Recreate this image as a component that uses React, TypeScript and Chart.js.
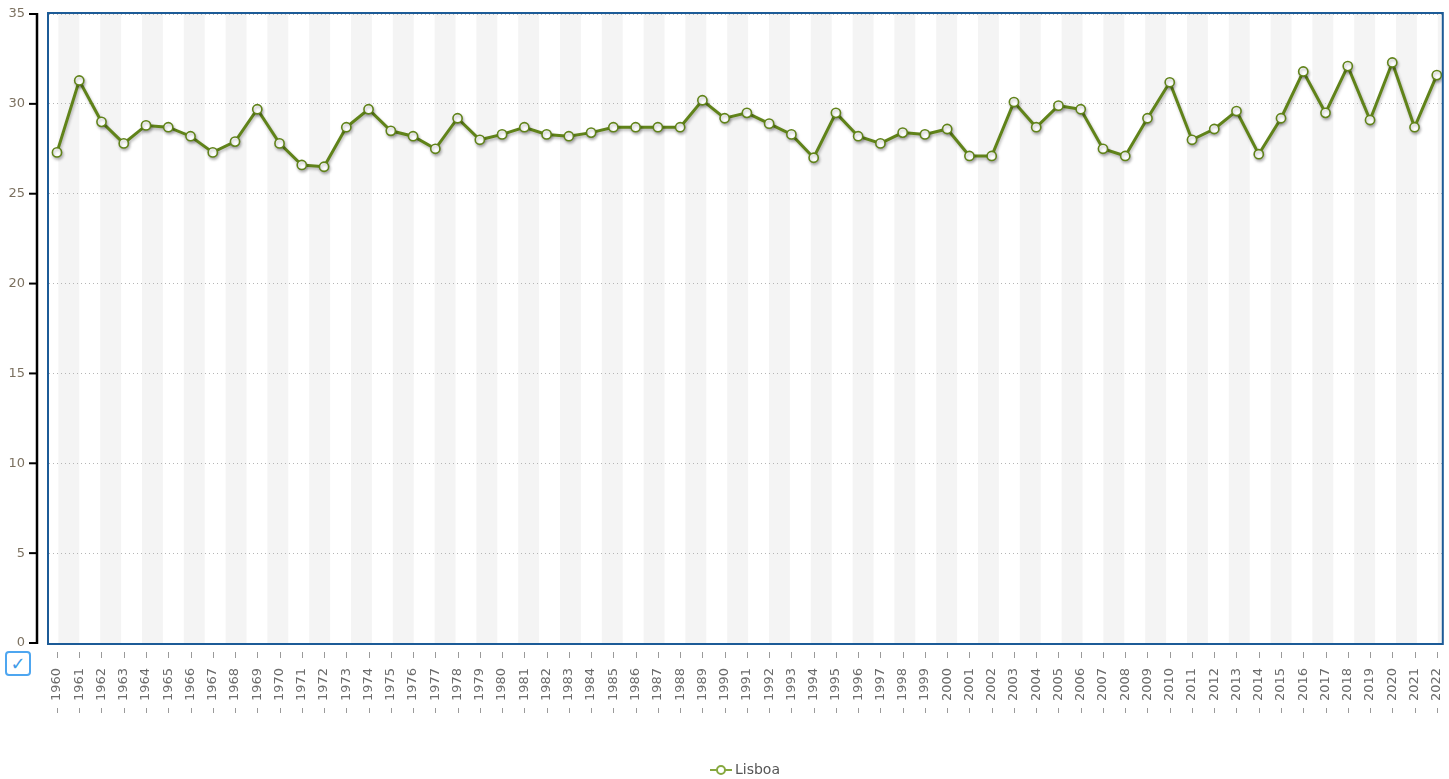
import React, { useEffect, useRef } from "react";
import { Chart, registerables } from "chart.js";

Chart.register(...registerables);

const years: string[] = [
  "1960","1961","1962","1963","1964","1965","1966","1967","1968","1969",
  "1970","1971","1972","1973","1974","1975","1976","1977","1978","1979",
  "1980","1981","1982","1983","1984","1985","1986","1987","1988","1989",
  "1990","1991","1992","1993","1994","1995","1996","1997","1998","1999",
  "2000","2001","2002","2003","2004","2005","2006","2007","2008","2009",
  "2010","2011","2012","2013","2014","2015","2016","2017","2018","2019",
  "2020","2021","2022",
];

const lisboa: number[] = [
  27.3, 31.3, 29.0, 27.8, 28.8, 28.7, 28.2, 27.3, 27.9, 29.7,
  27.8, 26.6, 26.5, 28.7, 29.7, 28.5, 28.2, 27.5, 29.2, 28.0,
  28.3, 28.7, 28.3, 28.2, 28.4, 28.7, 28.7, 28.7, 28.7, 30.2,
  29.2, 29.5, 28.9, 28.3, 27.0, 29.5, 28.2, 27.8, 28.4, 28.3,
  28.6, 27.1, 27.1, 30.1, 28.7, 29.9, 29.7, 27.5, 27.1, 29.2,
  31.2, 28.0, 28.6, 29.6, 27.2, 29.2, 31.8, 29.5, 32.1, 29.1,
  32.3, 28.7, 31.6,
];

const yTicks: number[] = [0, 5, 10, 15, 20, 25, 30, 35];
const seriesName = "Lisboa";

const GREEN = "#608319";
const FONT = "'DejaVu Sans', Verdana, sans-serif";

function legendIcon(): HTMLCanvasElement {
  const c = document.createElement("canvas");
  c.width = 22;
  c.height = 12;
  const g = c.getContext("2d")!;
  g.strokeStyle = "#86a83f";
  g.lineWidth = 2;
  g.beginPath();
  g.moveTo(0, 6);
  g.lineTo(22, 6);
  g.stroke();
  g.fillStyle = "#fff";
  g.beginPath();
  g.arc(11, 6, 4, 0, Math.PI * 2);
  g.fill();
  g.stroke();
  return c;
}

function zeroPad(s: any) {
  s.paddingTop = 0;
  s.paddingBottom = 0;
  s.paddingLeft = 0;
  s.paddingRight = 0;
}

const decor = {
  id: "decor",
  afterLayout(chart: any) {
    const lg = chart.legend;
    if (lg) {
      lg.left += 24;
      lg.right += 24;
    }
  },
  beforeDraw(chart: any) {
    const { ctx, chartArea } = chart;
    const { left, right, top, bottom } = chartArea;
    ctx.save();
    ctx.fillStyle = "#ffffff";
    ctx.fillRect(left, top, right - left, bottom - top);
    ctx.fillStyle = "#f4f4f4";
    const bw = 20.9;
    for (let x = left + 9.4; x < right; x += bw * 2) {
      const x2 = Math.min(x + bw, right);
      ctx.fillRect(x, top, x2 - x, bottom - top);
    }
    ctx.restore();
  },
  beforeDatasetDraw(chart: any) {
    const ctx = chart.ctx;
    ctx.save();
    ctx.shadowColor = "rgba(0,0,0,0.28)";
    ctx.shadowBlur = 3;
    ctx.shadowOffsetX = 1;
    ctx.shadowOffsetY = 2;
  },
  afterDatasetDraw(chart: any) {
    chart.ctx.restore();
  },
  afterDraw(chart: any) {
    const { ctx, chartArea, scales } = chart;
    const { left, right, top, bottom } = chartArea;
    const y = scales.y;
    const x = scales.x;
    ctx.save();
    ctx.strokeStyle = "#1c5b97";
    ctx.lineWidth = 2;
    ctx.strokeRect(left - 1, top - 1, right - left + 1, bottom - top + 2);
    ctx.strokeStyle = "#000";
    ctx.lineWidth = 2.5;
    const ax = 37;
    ctx.beginPath();
    ctx.moveTo(ax, y.getPixelForValue(35) - 1);
    ctx.lineTo(ax, y.getPixelForValue(0) + 1);
    ctx.stroke();
    ctx.lineWidth = 2;
    for (const v of yTicks) {
      const py = y.getPixelForValue(v);
      ctx.beginPath();
      ctx.moveTo(29, py);
      ctx.lineTo(ax, py);
      ctx.stroke();
    }
    ctx.strokeStyle = "#9a9a9a";
    ctx.lineWidth = 1;
    for (let i = 0; i < years.length; i++) {
      const px = Math.round(x.getPixelForValue(i)) + 0.5;
      ctx.beginPath();
      ctx.moveTo(px, bottom + 9);
      ctx.lineTo(px, bottom + 15);
      ctx.moveTo(px, bottom + 65);
      ctx.lineTo(px, bottom + 70);
      ctx.stroke();
    }
    ctx.restore();
  },
};

export default function App() {
  const ref = useRef<HTMLCanvasElement>(null);

  useEffect(() => {
    const icon = legendIcon();
    const chart = new Chart(ref.current!, {
      type: "line",
      data: {
        datasets: [
          {
            label: seriesName,
            data: lisboa.map((v, i) => ({ x: i, y: v })),
            borderColor: GREEN,
            borderWidth: 3,
            pointRadius: 4.6,
            pointBorderWidth: 1.6,
            pointBackgroundColor: "#ffffff",
            pointBorderColor: GREEN,
            tension: 0,
          },
        ],
      },
      options: {
        responsive: false,
        animation: false,
        layout: { padding: { top: 14, right: 3, left: 0, bottom: -8 } },
        scales: {
          x: {
            type: "linear",
            min: -0.359,
            max: 62.27,
            grid: { display: false },
            border: { display: false },
            afterFit: (s: any) => {
              s.height = 116;
              zeroPad(s);
            },
            ticks: {
              stepSize: 1,
              autoSkip: false,
              includeBounds: false,
              maxRotation: 90,
              minRotation: 90,
              padding: 17,
              color: "#6b6b6b",
              font: { family: FONT, size: 13 },
              callback: (v: any) =>
                Number.isInteger(v) && years[v] !== undefined ? years[v] : "",
            },
          },
          y: {
            min: 0,
            max: 35,
            grid: { color: "#b5b5b5", lineWidth: 1, drawTicks: false },
            border: { display: false, dash: [1, 3] },
            afterFit: (s: any) => {
              s.width = 49;
              zeroPad(s);
            },
            ticks: {
              stepSize: 5,
              padding: 24,
              color: "#7c7160",
              font: { family: FONT, size: 13 },
            },
          },
        },
        plugins: {
          legend: {
            position: "bottom",
            labels: {
              usePointStyle: true,
              padding: 4,
              color: "#555",
              font: { family: FONT, size: 14 },
              generateLabels: () => [
                {
                  text: seriesName,
                  pointStyle: icon as any,
                  fillStyle: "#fff",
                  strokeStyle: GREEN,
                  lineWidth: 0,
                  hidden: false,
                  datasetIndex: 0,
                  fontColor: "#555",
                } as any,
              ],
            },
          },
          tooltip: { enabled: false },
        },
      },
      plugins: [decor],
    });
    return () => chart.destroy();
  }, []);

  return (
    <div style={{ position: "absolute", left: 0, top: 0, width: 1449, height: 779, background: "#fff" }}>
      <canvas ref={ref} width={1449} height={779} style={{ width: 1449, height: 779, display: "block" }} />
      <div
        style={{
          position: "absolute",
          left: 5,
          top: 651,
          width: 22,
          height: 21,
          border: "2px solid #4ea6f0",
          borderRadius: 4,
          color: "#3f9be8",
          fontFamily: FONT,
          fontSize: 18,
          lineHeight: "21px",
          textAlign: "center",
          background: "#fff",
        }}
      >
        ✓
      </div>
    </div>
  );
}
